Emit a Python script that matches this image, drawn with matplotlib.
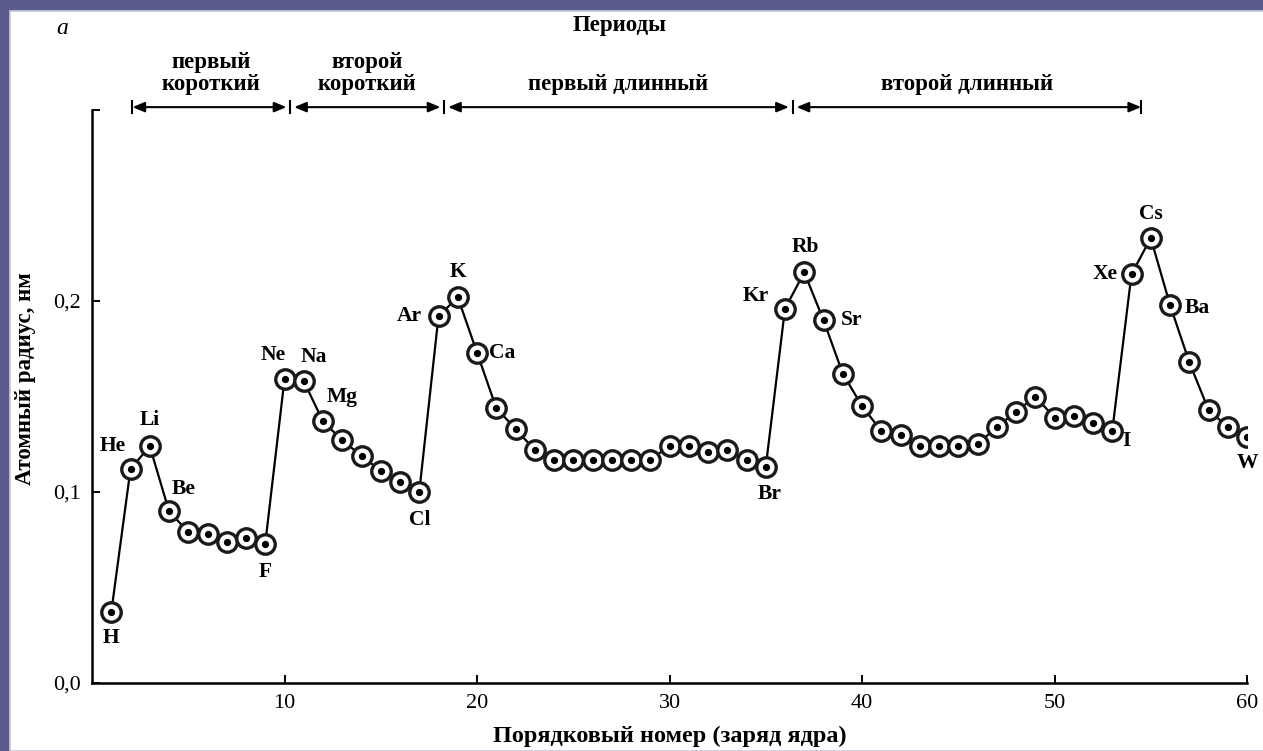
import matplotlib
matplotlib.use("Agg")
import matplotlib.pyplot as plt
from matplotlib.patches import Rectangle
from matplotlib.ticker import FixedLocator, FuncFormatter

plt.rcParams['font.family'] = ['Liberation Serif', 'DejaVu Serif']

# порядковый номер и атомный радиус, нм
z_numbers = list(range(1, 61))
radius = [0.037, 0.112, 0.124, 0.090, 0.079, 0.078, 0.074, 0.076, 0.073, 0.159,
          0.158, 0.137, 0.127, 0.119, 0.111, 0.105, 0.100, 0.192, 0.202, 0.173,
          0.144, 0.133, 0.122, 0.117, 0.117, 0.117, 0.117, 0.117, 0.117, 0.124,
          0.124, 0.121, 0.122, 0.117, 0.113, 0.196, 0.215, 0.190, 0.162, 0.145,
          0.132, 0.130, 0.124, 0.124, 0.124, 0.125, 0.134, 0.142, 0.150, 0.139,
          0.140, 0.136, 0.132, 0.214, 0.233, 0.198, 0.168, 0.143, 0.134, 0.129]

element_z = [1, 2, 3, 4, 9, 10, 11, 12, 17, 18, 19, 20, 35, 36, 37, 38, 53, 54, 55, 56, 60]
element_names = ["H", "He", "Li", "Be", "F", "Ne", "Na", "Mg", "Cl", "Ar", "K", "Ca",
                 "Br", "Kr", "Rb", "Sr", "I", "Xe", "Cs", "Ba", "W"]

period_names = ["первый\nкороткий", "второй\nкороткий", "первый длинный", "второй длинный"]
period_bounds = [2.1, 10.3, 18.3, 36.4, 54.5]

x_ticks = [10, 20, 30, 40, 50, 60]
y_ticks = [0.0, 0.1, 0.2, 0.3]

# смещения подписей в пикселях (dx, dy)
label_offsets = {
    "H": (0, -26), "He": (-18, 23), "Li": (0, 26), "Be": (15, 22), "F": (0, -28),
    "Ne": (-11, 24), "Na": (10, 24), "Mg": (19, 24), "Cl": (0, -28), "Ar": (-29, 0),
    "K": (0, 25), "Ca": (25, 0), "Br": (4, -27), "Kr": (-29, 13), "Rb": (1, 25),
    "Sr": (28, 0), "I": (14, -10), "Xe": (-26, 0), "Cs": (0, 24), "Ba": (27, -3),
    "W": (0, -26),
}

W, H = 1263, 751
fig = plt.figure(figsize=(W / 100, H / 100), dpi=100)
fig.patch.set_facecolor('#5b5b8e')
fig.patches.append(Rectangle((10 / W, 0), 1, (H - 11) / H, transform=fig.transFigure,
                             facecolor='white', edgecolor='#c9c9d6', lw=1.2, zorder=-10))

ax = fig.add_axes([92 / W, 68 / H, 1155 / W, 573 / H])
ax.set_facecolor('none')

ax.plot(z_numbers, radius, color='black', lw=1.6, zorder=2)
ax.plot(z_numbers, radius, linestyle='none', marker='o', ms=14, mfc='white',
        mec='#1a1a1a', mew=2.4, zorder=3)
ax.plot(z_numbers, radius, linestyle='none', marker='o', ms=4.2, mfc='black',
        mec='black', zorder=4)

for zn, name in zip(element_z, element_names):
    dx, dy = label_offsets[name]
    ax.annotate(name, xy=(zn, radius[zn - 1]), xytext=(dx * 0.72, dy * 0.72),
                textcoords='offset points', ha='center', va='center',
                fontsize=15.5, fontweight='bold', zorder=5)

ax.set_xlim(0, 60)
ax.set_ylim(0, 0.3)
ax.spines['top'].set_visible(False)
ax.spines['right'].set_visible(False)
for s in ['left', 'bottom']:
    ax.spines[s].set_linewidth(1.8)

ax.xaxis.set_major_locator(FixedLocator(x_ticks))
ax.yaxis.set_major_locator(FixedLocator(y_ticks))
ax.yaxis.set_major_formatter(FuncFormatter(
    lambda v, p: '' if v > 0.25 else f"{v:.1f}".replace('.', ',')))
ax.tick_params(direction='in', length=6, width=1.4, labelsize=16, pad=8)

ax.set_xlabel("Порядковый номер (заряд ядра)", fontsize=17.5, fontweight='bold', labelpad=9)
ax.set_ylabel("Атомный радиус, нм", fontsize=16.5, fontweight='bold', va='center')
ax.yaxis.set_label_coords(-0.058, 0.532)

# стрелки периодов
y_arrow = 0.3015
for i, name in enumerate(period_names):
    b0, b1 = period_bounds[i], period_bounds[i + 1]
    g0 = 0.0 if i == 0 else 0.2
    g1 = 0.0 if i == len(period_names) - 1 else 0.2
    ax.annotate('', xy=(b1 - g1, y_arrow), xytext=(b0 + g0, y_arrow),
                arrowprops=dict(arrowstyle='<|-|>,head_length=0.6,head_width=0.25',
                                color='black', lw=1.5, shrinkA=0, shrinkB=0,
                                mutation_scale=12), annotation_clip=False)
    ax.text((b0 + b1) / 2, y_arrow + 0.0065, name, ha='center', va='bottom',
            fontsize=16.5, fontweight='bold', linespacing=1.05, clip_on=False)
for b in period_bounds:
    ax.plot([b, b], [y_arrow - 0.003, y_arrow + 0.003], color='black', lw=1.5,
            clip_on=False)

fig.text(620 / W, 1 - 25 / H, "Периоды", ha='center', va='center', fontsize=16.5,
         fontweight='bold')
fig.text(62 / W, 1 - 29 / H, "а", ha='center', va='center', fontsize=17, style='italic')

fig.savefig("out.png", dpi=100, facecolor=fig.get_facecolor())
